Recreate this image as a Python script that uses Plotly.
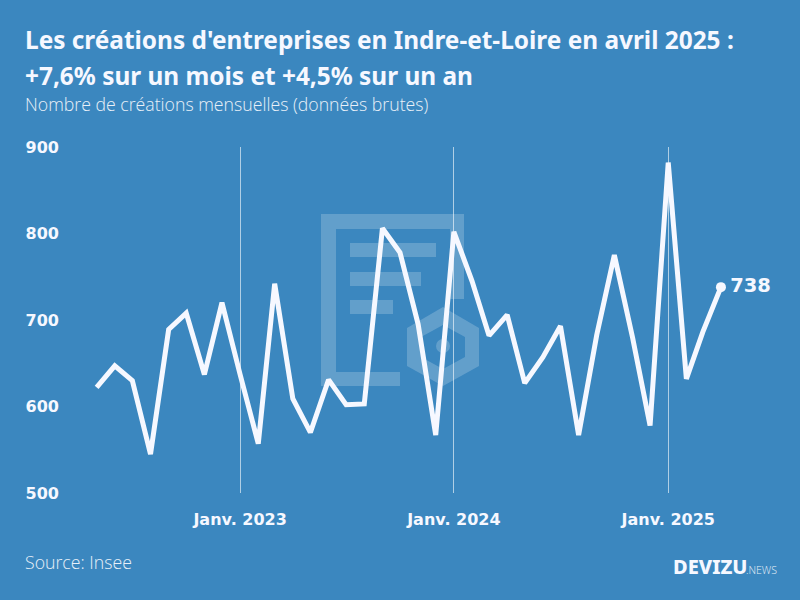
import plotly.graph_objects as go

W, H = 800, 600
BG = "#3b87bf"
INK = "#f6f8ff"
TITLE_FONT = "Noto Sans"
SUB_FONT = "Open Sans"
TICK_FONT = "DejaVu Sans"

months = [
    "2022-05", "2022-06", "2022-07", "2022-08", "2022-09", "2022-10", "2022-11", "2022-12",
    "2023-01", "2023-02", "2023-03", "2023-04", "2023-05", "2023-06", "2023-07", "2023-08",
    "2023-09", "2023-10", "2023-11", "2023-12", "2024-01", "2024-02", "2024-03", "2024-04",
    "2024-05", "2024-06", "2024-07", "2024-08", "2024-09", "2024-10", "2024-11", "2024-12",
    "2025-01", "2025-02", "2025-03", "2025-04",
]
creations = [
    622, 647, 630, 545, 689, 708, 637, 720,
    637, 557, 742, 609, 570, 631, 602, 603,
    806, 778, 695, 567, 802, 745, 682, 706,
    627, 657, 693, 567, 683, 775, 680, 578,
    882, 632, 686, 738,
]
x_tick_dates = ["2023-01-01", "2024-01-01", "2025-01-01"]
x_tick_labels = ["Janv. 2023", "Janv. 2024", "Janv. 2025"]
y_ticks = [500, 600, 700, 800, 900]

dates = [m + "-01" for m in months]


def px(x):
    return x / W


def py(y):
    return 1 - y / H


def poly(points):
    return "M " + " L ".join(f"{px(x):.5f},{py(y):.5f}" for x, y in points) + " Z"


WM = "rgba(255,255,255,0.2)"
doc = [(321, 214), (464, 214), (464, 299), (450, 299), (450, 229), (336, 229), (336, 372),
       (400, 372), (400, 386), (321, 386)]
hex_outer = [(443, 307), (479, 328), (479, 366), (443, 386), (407, 366), (407, 328)]
hex_inner = [(443, 325), (421, 337), (421, 357), (443, 369), (465, 357), (465, 337)]
bars = [(350, 436, 243, 257), (350, 421, 272, 286), (350, 393, 300, 314)]

shapes = [
    dict(type="path", xref="paper", yref="paper", layer="below", path=poly(doc), fillcolor=WM, line_width=0),
    dict(type="path", xref="paper", yref="paper", layer="below",
         path=poly(hex_outer) + " " + poly(hex_inner), fillcolor=WM, line_width=0),
    dict(type="circle", xref="paper", yref="paper", layer="below", x0=px(436), x1=px(450), y0=py(353), y1=py(339),
         fillcolor=WM, line_width=0),
]
for x0, x1, y0, y1 in bars:
    shapes.append(dict(type="rect", xref="paper", yref="paper", layer="below", x0=px(x0), x1=px(x1), y0=py(y1), y1=py(y0),
                       fillcolor=WM, line_width=0))

fig = go.Figure()
fig.add_trace(go.Scatter(x=dates, y=creations, mode="lines",
                         line=dict(color=INK, width=5, shape="linear"),
                         hoverinfo="skip", showlegend=False, cliponaxis=False))
fig.add_trace(go.Scatter(x=dates[-1:], y=creations[-1:], mode="markers+text",
                         marker=dict(color=INK, size=10),
                         text=[f"\u200a{creations[-1]}"], textposition="middle right",
                         textfont=dict(family=TICK_FONT, size=19.5, color=INK, weight=700),
                         hoverinfo="skip", showlegend=False, cliponaxis=False))


def note(text, x, y, size, color=INK, weight=400, family=TITLE_FONT, anchor="left"):
    return dict(text=text, xref="paper", yref="paper", x=px(x), y=py(y), xanchor=anchor, yanchor="middle",
                showarrow=False, align="left", font=dict(family=family, size=size, color=color, weight=weight))


SOFT = "#e8f0f8"
annotations = [
    note("Les créations d'entreprises en Indre-et-Loire en avril 2025 :", 23, 40, 24.4, weight=700),
    note("+7,6% sur un mois et +4,5% sur un an", 23, 75, 24.4, weight=700),
    note("Nombre de créations mensuelles (données brutes)", 23, 104, 17.7, color=SOFT, family=SUB_FONT, weight=300),
    note("Source: Insee", 23, 562, 17.7, color=SOFT, family=SUB_FONT, weight=300),
    note("DEVIZU", 671, 566, 20, weight=800, family="Noto Sans"),
    note(".NEWS", 744, 570, 10.5, color=SOFT, family=SUB_FONT, weight=300),
]

fig.update_layout(
    width=W, height=H,
    margin=dict(l=0, r=0, t=0, b=0, autoexpand=False),
    paper_bgcolor=BG, plot_bgcolor=BG,
    showlegend=False,
    shapes=shapes,
    annotations=annotations,
    xaxis=dict(
        domain=[px(65), 1], type="date", range=["2022-03-08", "2025-08-14"],
        tickmode="array", tickvals=x_tick_dates, ticktext=x_tick_labels,
        showgrid=True, gridcolor="rgba(255,255,255,0.6)", gridwidth=1,
        zeroline=False, showline=False, ticks="", ticklabelstandoff=15,
        tickfont=dict(family=TICK_FONT, size=16, color=INK, weight=700),
    ),
    yaxis=dict(
        domain=[py(493), py(147)], range=[500, 900],
        tickmode="array", tickvals=y_ticks,
        showgrid=False, zeroline=False, showline=False, ticks="", ticklabelstandoff=5,
        tickfont=dict(family=TICK_FONT, size=16, color=INK, weight=700),
    ),
)

fig.write_html("out.html", config={"displayModeBar": False},
               post_script="document.body.style.margin='0';document.documentElement.style.overflow='hidden';")
